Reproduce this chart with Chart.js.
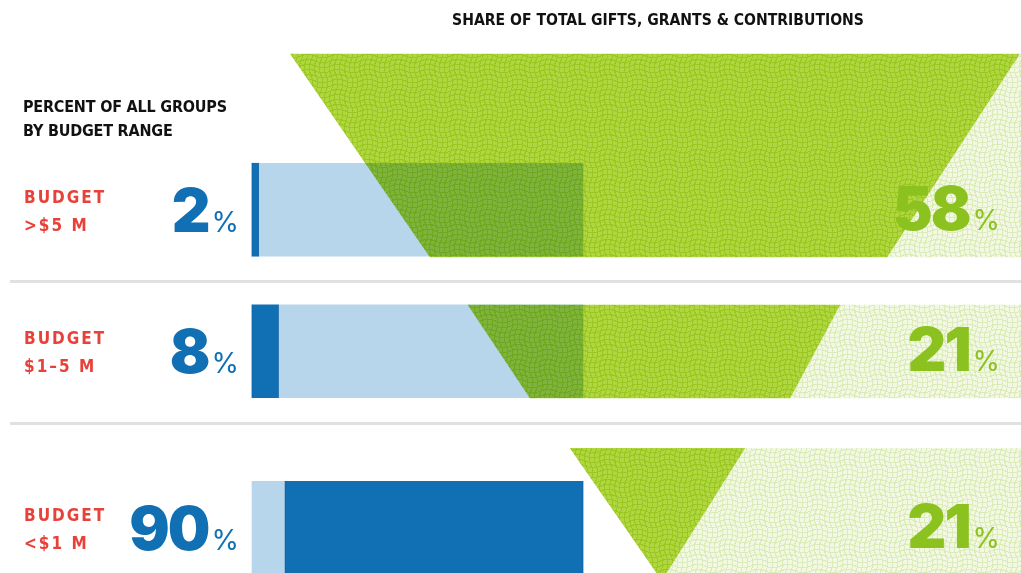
<!DOCTYPE html>
<html>
<head>
<meta charset="utf-8">
<script src="https://cdn.jsdelivr.net/npm/chart.js@4.4.1/dist/chart.umd.min.js"></script>
<style>
  html, body { margin: 0; padding: 0; background: #fff; overflow: hidden; }
  canvas { display: block; }
</style>
</head>
<body>
<canvas id="giftsChart" width="1021" height="573"></canvas>
<script>
// --- data ---
var budgetRanges = [['BUDGET', '>$5 M'], ['BUDGET', '$1\u20135 M'], ['BUDGET', '<$1 M']];
var groupPercent = [2, 8, 90];      // percent of all groups in each budget range
var giftPercent = [58, 21, 21];     // share of total gifts, grants & contributions
var darkOnRight = [false, false, true];

// --- layout (x2 / y are percent of canvas width / height) ---
var rowCenter = [36.6, 61.3, 92.1];
var rowBand = [[9.4, 44.9], [53.2, 69.5], [78.2, 100]];
var funnelLeft = [[28.4, 42.1], [45.8, 51.9], [55.8, 64.3]];
var funnelRight = [[99.9, 86.9], [82.3, 77.4], [73.0, 65.3]];
var separators = [49.0, 73.8];

var BLUE = '#1170b3', LIGHT_BLUE = '#b7d6eb', GREEN = '#8cc21f', RED = '#e8413a';
var NARROW = "'Liberation Sans Narrow', 'DejaVu Sans Condensed', sans-serif";
var HEAVY = "Inter, 'Liberation Sans', sans-serif";

// wavy grid texture used for the gift shapes
function wavyPattern(cell, line) {
  var size = 60;
  var c = document.createElement('canvas');
  c.width = c.height = size;
  var g = c.getContext('2d');
  var img = g.createImageData(size, size);
  for (var y = 0; y < size; y++) {
    for (var x = 0; x < size; x++) {
      var u = x + 1.8 * Math.sin(2 * Math.PI * y / 30);
      var v = y + 1.8 * Math.sin(2 * Math.PI * x / 30);
      var mu = ((u % 5) + 5) % 5, mv = ((v % 5) + 5) % 5;
      var col = (mu < 1.1 || mv < 1.1) ? line : cell;
      var k = (y * size + x) * 4;
      img.data[k] = col[0]; img.data[k + 1] = col[1]; img.data[k + 2] = col[2]; img.data[k + 3] = 255;
    }
  }
  g.putImageData(img, 0, 0);
  return g.createPattern(c, 'repeat');
}

var funnelFill = wavyPattern([176, 214, 66], [154, 200, 32]);
var paleFill = wavyPattern([242, 248, 228], [220, 236, 184]);

// blue bars: light remainder + dark share
var barSets = [[], [], []];
groupPercent.forEach(function (p, i) {
  var start = darkOnRight[i] ? 100 - p : 0;
  barSets[0].push({ x: [0, start], y: rowCenter[i] });
  barSets[1].push({ x: [start, start + p], y: rowCenter[i] });
  barSets[2].push({ x: [start + p, 100], y: rowCenter[i] });
});

function barDataset(data, color) {
  return {
    type: 'bar', indexAxis: 'y', data: data, xAxisID: 'x', yAxisID: 'y',
    backgroundColor: color, borderWidth: 0, barThickness: 93, grouped: false
  };
}

function shapeDataset(points, fill) {
  return {
    type: 'line', data: points, xAxisID: 'x2', yAxisID: 'y',
    fill: 'shape', backgroundColor: fill, borderColor: 'rgba(0,0,0,0)',
    borderWidth: 0, pointRadius: 0, tension: 0
  };
}

var datasets = [
  barDataset(barSets[1], BLUE),
  barDataset(barSets[0], LIGHT_BLUE),
  barDataset(barSets[2], LIGHT_BLUE)
];
rowBand.forEach(function (band, i) {
  var l = funnelLeft[i], r = funnelRight[i];
  datasets.push(shapeDataset([
    { x: l[0], y: band[0] }, { x: r[0], y: band[0] },
    { x: r[1], y: band[1] }, { x: l[1], y: band[1] }, { x: l[0], y: band[0] }
  ], funnelFill));
  datasets.push(shapeDataset([
    { x: r[0], y: band[0] }, { x: 100, y: band[0] },
    { x: 100, y: band[1] }, { x: r[1], y: band[1] }, { x: r[0], y: band[0] }
  ], paleFill));
});

// bars multiply over the green so the overlap darkens
var blendPlugin = {
  id: 'blend',
  beforeDatasetDraw: function (chart, args) {
    if (chart.data.datasets[args.index].type === 'bar') {
      chart.ctx.save();
      chart.ctx.globalCompositeOperation = 'multiply';
    }
  },
  afterDatasetDraw: function (chart, args) {
    if (chart.data.datasets[args.index].type === 'bar') chart.ctx.restore();
  },
  beforeDatasetsDraw: function (chart) {
    var ctx = chart.ctx, ys = chart.scales.y;
    ctx.save();
    ctx.strokeStyle = '#e1e1e1';
    ctx.lineWidth = 3;
    separators.forEach(function (s) {
      var py = Math.round(ys.getPixelForValue(s)) + 0.5;
      ctx.beginPath();
      ctx.moveTo(10, py);
      ctx.lineTo(chart.width, py);
      ctx.stroke();
    });
    ctx.restore();
  }
};

function percentLabel(ctx, value, right, baseline, color) {
  ctx.fillStyle = color;
  ctx.textAlign = 'right';
  ctx.font = '400 28px ' + HEAVY;
  ctx.fillText('%', right, baseline);
  var w = ctx.measureText('%').width;
  ctx.font = '900 60px ' + HEAVY;
  ctx.letterSpacing = '-2px';
  ctx.fillText(String(value), right - w - 3, baseline);
  ctx.letterSpacing = '0px';
}

var textPlugin = {
  id: 'texts',
  afterDatasetsDraw: function (chart) {
    var ctx = chart.ctx, ys = chart.scales.y;
    ctx.save();
    ctx.textBaseline = 'alphabetic';
    ctx.fillStyle = '#111';
    ctx.font = 'bold 15.6px ' + NARROW;
    ctx.textAlign = 'center';
    ctx.fillText('SHARE OF TOTAL GIFTS, GRANTS & CONTRIBUTIONS', 658, 25);
    ctx.textAlign = 'left';
    ctx.font = 'bold 16px ' + NARROW;
    ctx.letterSpacing = '-0.2px';
    ctx.fillText('PERCENT OF ALL GROUPS', 23, 112);
    ctx.fillText('BY BUDGET RANGE', 23, 136);

    rowCenter.forEach(function (c, i) {
      var cy = ys.getPixelForValue(c);
      ctx.fillStyle = RED;
      ctx.textAlign = 'left';
      ctx.font = 'bold 17px ' + NARROW;
      ctx.letterSpacing = '2px';
      ctx.fillText(budgetRanges[i][0], 24, cy - 7);
      ctx.fillText(budgetRanges[i][1], 24, cy + 21);
      ctx.letterSpacing = '0px';
      percentLabel(ctx, groupPercent[i], 239, cy + 22, BLUE);
      percentLabel(ctx, giftPercent[i], 1000, cy + 20, GREEN);
    });
    ctx.restore();
  }
};

new Chart('giftsChart', {
  data: { datasets: datasets },
  options: {
    responsive: false,
    animation: false,
    events: [],
    layout: { padding: 0 },
    plugins: {
      legend: { display: false },
      tooltip: { enabled: false },
      filler: { drawTime: 'beforeDatasetsDraw' }
    },
    scales: {
      x: { type: 'linear', display: false, offset: false, min: -76.13, max: 232.33 },
      x2: { type: 'linear', display: false, offset: false, min: 0, max: 100 },
      y: { type: 'linear', display: false, offset: false, min: 0, max: 100, reverse: true }
    }
  },
  plugins: [blendPlugin, textPlugin]
});
</script>
</body>
</html>
